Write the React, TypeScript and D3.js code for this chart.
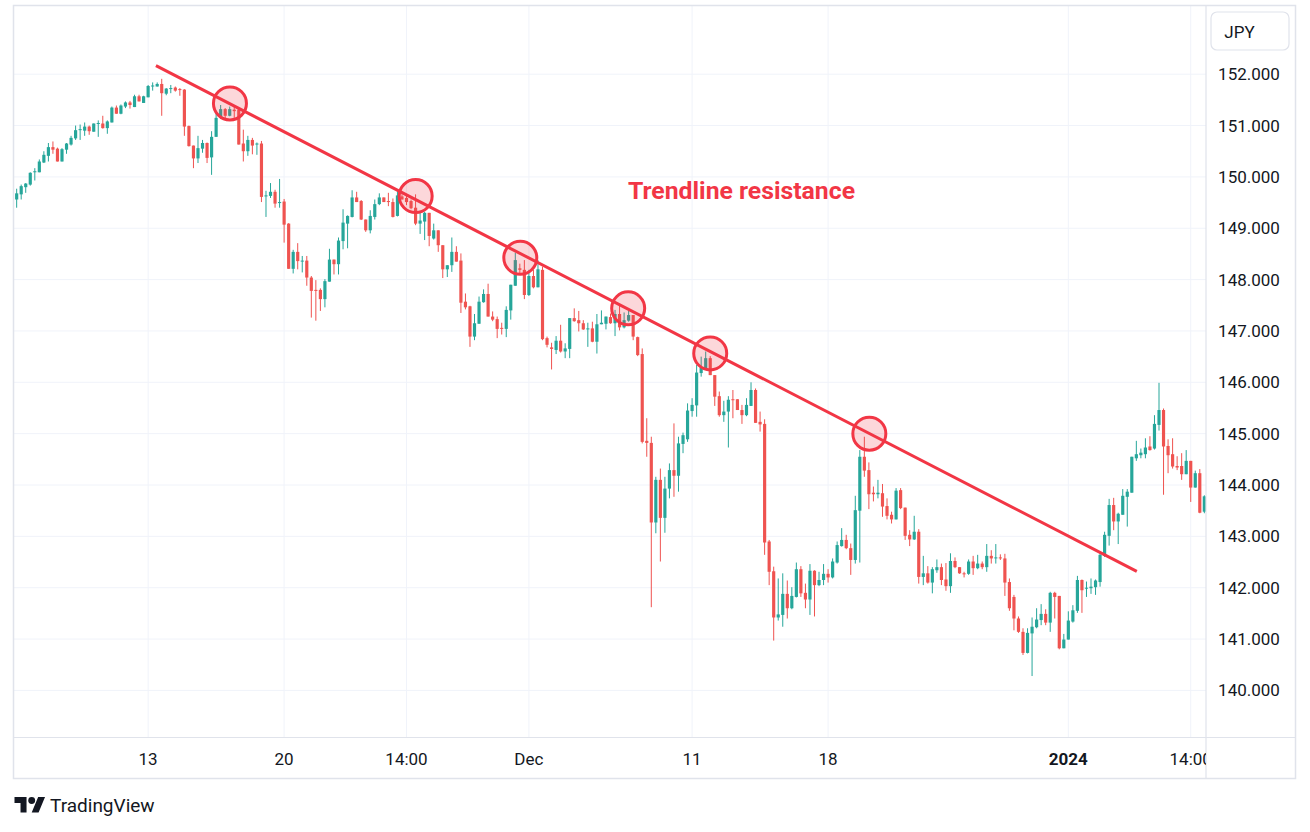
import React from "react";
import * as d3 from "d3";

// ---- data (USD/JPY, 4h candles) ----
const opens = [
  149.56,149.66,149.80,149.85,150.09,150.09,150.28,150.41,150.58,150.55,
  150.30,150.53,150.63,150.75,150.91,150.90,150.98,150.88,151.03,151.04,
  150.95,151.06,151.35,151.23,151.37,151.45,151.36,151.57,151.44,151.55,
  151.77,151.76,151.81,151.62,151.72,151.74,151.71,151.70,150.99,150.61,
  150.36,150.55,150.66,150.38,150.78,151.15,151.32,151.19,151.31,151.31,
  150.65,150.50,150.72,150.63,150.65,149.62,149.63,149.71,149.50,149.52,
  149.09,148.21,148.54,148.36,148.37,148.04,147.80,147.80,147.62,147.96,
  148.39,148.30,148.75,149.09,149.22,149.60,149.53,149.17,148.96,149.22,
  149.47,149.60,149.53,149.51,149.24,149.62,149.59,149.53,149.40,149.09,
  149.13,149.30,148.80,148.96,148.67,148.20,148.28,148.54,148.37,147.57,
  147.48,146.89,147.14,147.56,147.72,147.28,147.23,147.06,147.04,147.40,
  147.88,148.22,148.19,147.70,148.07,147.85,148.19,146.86,146.68,146.63,
  146.81,146.60,146.65,147.25,147.21,147.15,147.03,147.05,146.79,147.13,
  147.14,147.27,147.15,147.33,147.07,147.20,147.31,146.88,146.55,144.86,
  144.82,143.27,144.10,143.36,143.93,144.29,144.18,144.80,144.89,145.44,
  145.55,146.18,146.27,146.47,146.14,145.73,145.36,145.43,145.67,145.67,
  145.46,145.36,145.54,145.85,145.23,145.19,142.90,142.32,141.42,141.47,
  141.88,141.60,141.82,142.36,141.90,141.77,142.33,142.05,142.15,142.27,
  142.20,142.49,142.81,142.93,142.77,142.54,143.50,144.55,144.29,143.85,
  143.82,143.84,143.59,143.42,143.33,143.90,143.56,143.03,142.94,143.09,
  142.21,142.28,142.10,142.34,142.40,142.16,142.03,142.52,142.40,142.28,
  142.27,142.51,142.38,142.47,142.40,142.62,142.58,142.59,142.57,142.11,
  141.82,141.40,141.14,140.73,141.11,141.23,141.37,141.49,141.32,141.90,
  141.84,140.82,140.99,141.34,141.55,142.15,141.99,141.99,142.01,142.11,
  142.62,143.01,143.61,143.29,143.42,143.77,143.85,144.52,144.58,144.60,
  144.75,144.71,145.17,145.46,144.76,144.60,144.37,144.37,144.21,144.47,
  143.95,144.23,143.48,
];
const highs = [
  149.77,149.85,149.88,150.09,150.17,150.34,150.50,150.66,150.69,150.57,
  150.56,150.66,150.80,151.00,151.02,151.06,151.00,151.04,151.10,151.19,
  151.10,151.37,151.39,151.41,151.47,151.48,151.60,151.60,151.58,151.79,
  151.84,151.84,151.91,151.73,151.79,151.76,151.73,151.71,151.00,150.61,
  150.80,150.72,150.67,150.89,151.24,151.40,151.34,151.37,151.37,151.34,
  150.92,150.80,150.76,150.67,150.70,149.73,149.88,149.75,149.96,149.57,
  149.10,148.58,148.71,148.46,148.46,148.07,147.99,147.83,148.01,148.60,
  148.39,148.82,149.37,149.25,149.74,149.71,149.55,149.17,149.35,149.56,
  149.68,149.60,149.69,149.58,149.74,149.66,149.64,149.56,149.66,149.30,
  149.32,149.30,149.09,148.96,148.67,148.28,148.82,148.65,148.51,147.73,
  147.49,147.33,147.67,147.81,147.92,147.38,147.28,147.16,147.48,147.90,
  148.52,148.31,148.38,148.19,148.19,148.38,148.25,146.89,146.77,146.90,
  147.12,146.76,147.25,147.44,147.39,147.21,147.16,147.18,147.33,147.40,
  147.28,147.34,147.41,147.49,147.36,147.40,147.31,146.89,146.66,145.30,
  144.94,144.16,144.32,144.16,144.42,145.20,144.94,145.02,145.59,145.69,
  146.34,146.50,146.60,146.51,146.14,145.82,145.64,145.73,145.85,145.67,
  145.56,145.69,146.00,145.88,145.43,145.28,142.93,142.41,142.18,142.28,
  142.14,142.01,142.49,142.42,142.08,142.46,142.34,142.31,142.46,142.36,
  142.57,142.90,143.16,143.03,142.86,143.79,144.68,144.94,144.44,143.97,
  144.10,144.02,143.74,143.48,143.94,143.94,143.56,143.12,143.40,143.14,
  142.62,142.42,142.40,142.55,142.47,142.48,142.67,142.59,142.40,142.31,
  142.55,142.62,142.64,142.51,142.85,142.73,142.85,142.65,142.66,142.18,
  141.86,141.44,141.21,141.21,141.42,141.60,141.68,141.58,141.92,141.92,
  141.84,141.10,141.54,141.66,142.23,142.16,142.12,142.18,142.16,142.70,
  143.09,143.73,143.75,143.46,143.92,143.92,144.55,144.86,144.71,144.91,
  144.95,145.36,145.99,145.49,144.89,144.91,144.56,144.62,144.68,144.47,
  144.28,144.31,143.80,
];
const lows = [
  149.40,149.56,149.69,149.83,149.93,150.09,150.27,150.30,150.45,150.30,
  150.30,150.45,150.61,150.72,150.72,150.80,150.82,150.88,150.78,150.94,
  150.84,151.06,151.23,151.22,151.34,151.33,151.36,151.47,151.44,151.55,
  151.68,151.76,151.19,151.59,151.63,151.66,151.58,150.80,150.59,150.17,
  150.27,150.47,150.27,150.04,150.78,151.13,151.13,151.18,151.15,150.63,
  150.30,150.41,150.44,150.43,149.51,149.22,149.59,149.40,149.40,148.72,
  148.21,148.12,148.20,148.14,147.88,147.26,147.20,147.39,147.46,147.96,
  148.10,148.10,148.59,148.61,149.21,149.51,149.16,148.93,148.90,149.17,
  149.45,149.51,149.43,149.21,149.23,149.56,149.45,149.37,149.06,148.89,
  148.77,148.65,148.78,148.54,148.03,148.05,148.15,148.35,147.35,147.42,
  146.69,146.82,147.14,147.55,147.28,147.19,146.86,146.93,146.88,147.22,
  147.88,148.09,147.62,147.68,147.83,147.85,146.82,146.68,146.25,146.55,
  146.58,146.47,146.47,147.18,146.99,147.02,146.69,146.78,146.56,147.13,
  147.03,147.14,146.90,147.01,147.05,147.18,146.82,146.51,144.81,144.55,
  141.62,143.06,142.51,143.07,143.74,143.77,143.87,144.62,144.84,145.33,
  145.33,146.11,146.24,146.14,145.54,145.33,145.23,144.73,145.30,145.46,
  145.19,145.34,145.54,145.21,145.04,142.64,142.05,140.97,141.36,141.24,
  141.40,141.58,141.81,141.82,141.60,141.47,141.44,142.03,142.05,142.10,
  142.18,142.47,142.80,142.75,142.25,142.47,142.49,144.16,143.53,143.68,
  143.74,143.38,143.33,143.25,143.33,143.53,142.93,142.81,142.93,142.08,
  142.05,142.08,141.89,142.29,142.05,141.94,141.90,142.38,142.27,142.20,
  142.25,142.25,142.36,142.36,142.31,142.47,142.47,142.54,141.84,141.55,
  141.17,141.12,140.69,140.72,140.28,141.21,141.27,141.27,141.14,141.40,
  140.80,140.82,140.99,141.32,141.51,141.51,141.82,141.88,141.86,142.02,
  142.60,142.82,143.12,142.85,143.42,143.19,143.85,144.47,144.52,144.52,
  144.67,144.69,145.06,143.81,144.23,144.32,144.29,144.10,144.21,143.67,
  143.95,143.45,143.45,
];
const closes = [
  149.68,149.82,149.87,150.08,150.11,150.30,150.43,150.58,150.53,150.30,
  150.54,150.65,150.76,150.91,150.93,150.98,150.89,151.04,151.05,150.95,
  151.08,151.35,151.23,151.39,151.45,151.40,151.57,151.47,151.57,151.77,
  151.78,151.81,151.63,151.72,151.73,151.68,151.70,150.98,150.60,150.36,
  150.56,150.66,150.37,150.78,151.15,151.32,151.19,151.32,151.28,150.63,
  150.50,150.72,150.61,150.65,149.61,149.64,149.71,149.48,149.51,149.07,
  148.21,148.54,148.36,148.37,148.04,147.78,147.78,147.62,147.97,148.39,
  148.30,148.76,149.11,149.24,149.60,149.51,149.17,148.96,149.24,149.47,
  149.60,149.51,149.51,149.22,149.64,149.56,149.51,149.39,149.09,149.15,
  149.30,148.85,148.96,148.67,148.20,148.28,148.54,148.35,147.55,147.46,
  146.89,147.15,147.57,147.72,147.28,147.22,147.04,147.04,147.41,147.90,
  148.38,148.19,147.70,148.07,147.85,148.20,146.84,146.73,146.65,146.81,
  146.60,146.66,147.25,147.19,147.15,147.03,147.05,146.79,147.13,147.16,
  147.28,147.15,147.33,147.07,147.21,147.31,146.89,146.53,144.84,144.82,
  143.27,144.10,143.36,143.93,144.29,144.18,144.81,144.97,145.45,145.56,
  146.19,146.29,146.47,146.14,145.72,145.36,145.43,145.66,145.66,145.46,
  145.36,145.56,145.85,145.21,145.18,142.88,142.31,141.42,141.48,141.88,
  141.60,141.84,142.36,141.89,141.77,142.33,142.05,142.15,142.27,142.20,
  142.51,142.83,142.93,142.77,142.54,143.51,144.55,144.28,143.82,143.82,
  143.85,143.58,143.40,143.33,143.89,143.55,143.01,142.94,143.09,142.21,
  142.28,142.10,142.36,142.40,142.15,142.03,142.52,142.40,142.28,142.27,
  142.51,142.38,142.47,142.40,142.62,142.57,142.59,142.58,142.10,141.60,
  141.40,141.14,140.73,141.12,141.24,141.38,141.49,141.32,141.90,141.82,
  140.82,140.99,141.36,141.56,142.15,141.95,142.00,142.02,142.14,142.64,
  143.03,143.61,143.29,143.44,143.79,143.87,144.55,144.60,144.63,144.73,
  144.68,145.19,145.46,144.75,144.58,144.36,144.34,144.21,144.47,143.95,
  144.23,143.46,143.78,
];

// time-axis ticks (bar index -> label)
const timeTickIdx = [29, 59, 86, 113, 149, 179, 232, 259];
const timeTickLabels = ["13", "20", "14:00", "Dec", "11", "18", "2024", "14:00"];
const boldTimeLabels = ["2024"];

// price ticks
const priceTicks = [140, 141, 142, 143, 144, 145, 146, 147, 148, 149, 150, 151, 152];

// trendline (bar index, price)
const trendIdx = [30.73, 247.1];
const trendPrice = [152.166, 142.317];

// touch points marked with circles
const touchIdx = [47.05, 88.02, 111.1, 134.9, 153.0, 188.1];
const touchPrice = [151.431, 149.627, 148.424, 147.44, 146.563, 145.0];

const annotation = "Trendline resistance";
const currency = "JPY";

const UP = "#26a69a";
const DOWN = "#ef5350";
const ACCENT = "#f23645";
const GRID = "#f0f3fa";
const BORDER = "#e0e3eb";
const TEXT = "#131722";
const FONT = "Roboto, 'Noto Sans', sans-serif";

export default function App() {
  const n = closes.length;
  const plotL = 14, plotR = 1206, plotT = 6, plotB = 737;

  const x = d3.scaleBand<number>().domain(d3.range(n)).range([14.4, 1206.6]).padding(0);
  const bw = x.bandwidth();
  const cx = d3.scaleLinear().domain([0, n - 1]).range([(x(0) as number) + bw / 2, (x(n - 1) as number) + bw / 2]);
  const y = d3.scaleLinear().domain([140, 152]).range([690.4, 74.2]);

  const bodyW = bw * 0.7;

  const trendLine = d3.line<number>()
    .x((_, k) => cx(trendIdx[k]))
    .y((p) => y(p))(trendPrice) as string;

  return (
    <svg width={1310} height={832} style={{ position: "absolute", left: 0, top: 0, background: "#fff" }} fontFamily={FONT}>
      <defs>
        <clipPath id="plot">
          <rect x={plotL} y={plotT} width={plotR - plotL} height={plotB - plotT} />
        </clipPath>
        <clipPath id="taxis">
          <rect x={plotL} y={plotB} width={plotR - plotL} height={42} />
        </clipPath>
      </defs>
      <rect x={0} y={0} width={1310} height={832} fill="#fff" />

      {/* grid */}
      <g clipPath="url(#plot)">
        {priceTicks.map((p) => (
          <line key={"h" + p} x1={plotL} x2={plotR} y1={y(p)} y2={y(p)} stroke={GRID} strokeWidth={1} />
        ))}
        {timeTickIdx.map((i) => (
          <line key={"v" + i} x1={cx(i)} x2={cx(i)} y1={plotT} y2={plotB} stroke={GRID} strokeWidth={1} />
        ))}
      </g>

      {/* candles */}
      <g clipPath="url(#plot)">
        {closes.map((c, i) => {
          const o = opens[i];
          const col = c < o ? DOWN : UP;
          const xc = cx(i);
          const top = y(Math.max(o, c));
          const bot = y(Math.min(o, c));
          return (
            <g key={i}>
              <line x1={xc} x2={xc} y1={y(highs[i])} y2={y(lows[i])} stroke={col} strokeWidth={1} />
              <rect x={xc - bodyW / 2} y={top} width={bodyW} height={Math.max(1, bot - top)} fill={col} />
            </g>
          );
        })}
      </g>

      {/* trendline + circles */}
      <g clipPath="url(#plot)">
        <path d={trendLine} stroke={ACCENT} strokeWidth={3} fill="none" strokeLinecap="butt" />
        {touchIdx.map((i, k) => (
          <circle key={k} cx={cx(i)} cy={y(touchPrice[k])} r={16.5} fill="rgba(242,54,69,0.2)" stroke={ACCENT} strokeWidth={3} />
        ))}
        <text x={628} y={198.5} fill={ACCENT} fontSize={23.5} fontWeight={700} textLength={227} lengthAdjust="spacingAndGlyphs">
          {annotation}
        </text>
      </g>

      {/* frame */}
      <rect x={13.5} y={5.5} width={1282} height={773} fill="none" stroke={BORDER} strokeWidth={1.5} />
      <line x1={1206} x2={1206} y1={5.5} y2={778.5} stroke={BORDER} strokeWidth={1.2} />
      <line x1={13.5} x2={1295.5} y1={737.5} y2={737.5} stroke={BORDER} strokeWidth={1.2} />

      {/* price axis */}
      <rect x={1211} y={12} width={78} height={38} rx={6} fill="#fff" stroke={BORDER} strokeWidth={1.2} />
      <text x={1239.5} y={31.5} fontSize={17} fill={TEXT} textAnchor="middle" dominantBaseline="central">
        {currency}
      </text>
      {priceTicks.map((p) => (
        <text key={"pl" + p} x={1249} y={y(p)} fontSize={17} fill={TEXT} textAnchor="middle" dominantBaseline="central">
          {p.toFixed(3)}
        </text>
      ))}

      {/* time axis */}
      <g clipPath="url(#taxis)">
        {timeTickIdx.map((i, k) => (
          <text key={"tl" + k} x={cx(i)} y={759} fontSize={17} fill={TEXT} textAnchor="middle" dominantBaseline="central"
            fontWeight={boldTimeLabels.includes(timeTickLabels[k]) ? 700 : 400}>
            {timeTickLabels[k]}
          </text>
        ))}
      </g>

      {/* TradingView logo */}
      <g transform="translate(14.5,793.6) scale(0.86)" fill={TEXT}>
        <path d="M14 22H7V11H0V4h14v18zM28 22h-8l7.5-18h8L28 22z" />
        <circle cx={20} cy={8} r={4} />
      </g>
      <text x={50} y={812} fontSize={19} fill={TEXT}>TradingView</text>
    </svg>
  );
}
